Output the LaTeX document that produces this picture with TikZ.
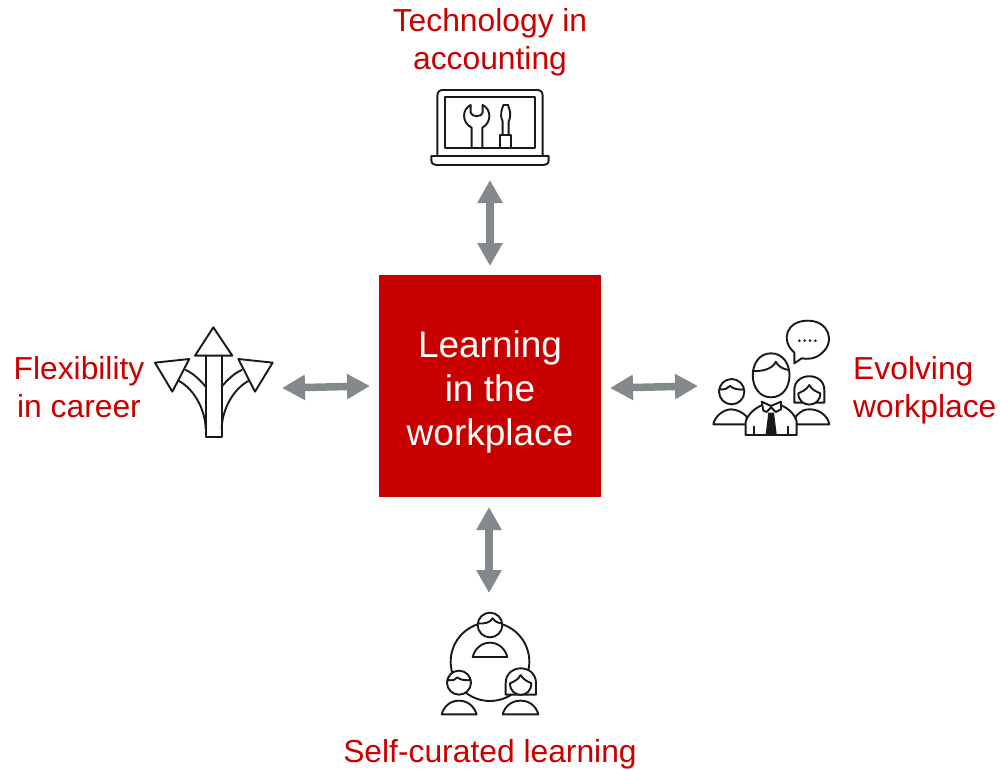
\documentclass[tikz,border=0pt]{standalone}
\usepackage{fontspec}
\setmainfont{Liberation Sans}
\usetikzlibrary{arrows.meta}
\definecolor{brandred}{HTML}{C80000}
\definecolor{arrowgray}{HTML}{84898B}
\tikzset{
  lbl/.style={text=brandred,font=\fontsize{31.8}{38}\selectfont,align=center,inner sep=0pt},
  lblleft/.style={text=brandred,font=\fontsize{31.8}{38}\selectfont,align=left,inner sep=0pt},
  centerbox/.style={fill=brandred,text=white,minimum width=222pt,minimum height=222pt,inner sep=0pt,align=center,font=\fontsize{37}{44}\selectfont},
  link/.style={draw=arrowgray,line width=7.5pt,{Triangle[length=23pt,width=24pt]}-{Triangle[length=23pt,width=24pt]}},
  icon/.style={draw=black!90,line width=1.9pt,line join=round,line cap=round},
  iconw/.style={icon,fill=white},
  zoomA/.style={shift={(420,80)},x=0.3333pt,y=-0.3333pt},
  zoomB/.style={shift={(145,315)},x=0.3333pt,y=-0.3333pt},
  zoomC/.style={shift={(705,310)},x=0.3333pt,y=-0.3333pt},
  zoomD/.style={shift={(430,600)},x=0.3333pt,y=-0.3333pt},
}
\begin{document}
\begin{tikzpicture}[x=1pt,y=-1pt]
\useasboundingbox (0,0) rectangle (1000,770);
\node[centerbox] (center) at (490,386) {\rule{0pt}{38pt}Learning\\in the\\workplace};
\node[lbl] (tech) at (490,42.5) {Technology in\\accounting};
\node[lbl] (flex) at (79,387) {Flexibility\\in career};
\node[lblleft,anchor=west] (evol) at (853,390) {Evolving\\workplace};
\node[lbl] (self) at (490,754) {Self-curated learning};

\coordinate (aT1) at (490,180); \coordinate (aT2) at (490,266);
\coordinate (aB1) at (489,507); \coordinate (aB2) at (489,593);
\coordinate (aL1) at (282,388); \coordinate (aL2) at (370,386);
\coordinate (aR1) at (610,388); \coordinate (aR2) at (698,386);
\draw[link] (aT1) -- (aT2);
\draw[link] (aB1) -- (aB2);
\draw[link] (aL1) -- (aL2);
\draw[link] (aR1) -- (aR2);

% laptop
\begin{scope}[zoomA]
\draw[icon] (52,228) -- (52,48) .. controls (52,36) and (58,30) .. (68,30) -- (352,30) .. controls (362,30) and (368,36) .. (368,48) -- (368,228);
\draw[icon] (75,52) rectangle (345,205);
\draw[icon] (34,228) -- (386,228) -- (386,240) .. controls (386,250) and (380,255) .. (372,255) -- (48,255) .. controls (40,255) and (34,250) .. (34,240) -- cycle;
\draw[icon] (155,205) -- (155,143) .. controls (125,128) and (125,88) .. (152,75) -- (152,98) .. controls (155,112) and (185,112) .. (188,98) -- (188,75) .. controls (215,88) and (215,128) .. (187,143) -- (187,205);
\draw[icon] (250,75) -- (264,75) .. controls (268,90) and (276,100) .. (266,125) -- (266,165) -- (248,165) -- (248,125) .. controls (238,100) and (246,90) .. (250,75) -- cycle;
\draw[icon] (240,165) rectangle (273,205);
\end{scope}

% arrows
\begin{scope}[zoomB]
\draw[icon] (122,165) .. controls (145,175) and (165,195) .. (182,215);
\draw[icon] (100,197) .. controls (145,220) and (180,280) .. (182,340);
\draw[icon] (290,165) .. controls (267,175) and (247,195) .. (230,215);
\draw[icon] (312,197) .. controls (267,220) and (232,280) .. (230,340);
\draw[icon] (182,122) -- (182,365) -- (230,365) -- (230,122);
\draw[icon] (205,37) -- (262,122) -- (150,122) -- cycle;
\draw[icon] (30,143) -- (133,132) -- (82,230) -- cycle;
\draw[icon] (383,143) -- (280,132) -- (330,230) -- cycle;
\end{scope}

% evolving workplace
\begin{scope}[zoomC]
\draw[icon] (268,160) -- (268,128) .. controls (225,90) and (245,32) .. (308,32) .. controls (372,32) and (392,95) .. (350,130) .. controls (330,148) and (305,148) .. (290,145) -- cycle;
\foreach \dx in {283,299,315,331} \fill[black!85] (\dx,92) circle (4.5);
\draw[iconw] (80,245) circle (38);
\draw[icon] (43,238) .. controls (60,240) and (68,235) .. (75,228) .. controls (85,238) and (105,240) .. (117,238);
\draw[iconw] (25,343) .. controls (30,315) and (60,298) .. (78,298) .. controls (95,298) and (115,308) .. (125,320) -- (125,343) -- cycle;
\draw[iconw] (268,278) -- (268,240) .. controls (268,185) and (358,185) .. (358,240) -- (358,278) -- (335,278) -- (290,278) -- cycle;
\draw[iconw] (313,225) .. controls (305,240) and (290,245) .. (280,250) .. controls (280,295) and (346,295) .. (346,250) .. controls (335,245) and (320,240) .. (313,225) -- cycle;
\draw[iconw] (272,320) .. controls (290,300) and (300,298) .. (315,298) .. controls (340,298) and (368,315) .. (373,343) -- (272,343) -- cycle;
\draw[iconw] (198,130) .. controls (125,130) and (125,262) .. (198,262) .. controls (272,262) and (272,130) .. (198,130) -- cycle;
\draw[icon] (143,183) .. controls (175,185) and (205,175) .. (212,155) .. controls (220,170) and (235,178) .. (252,180);
\draw[iconw] (122,375) -- (122,335) .. controls (130,310) and (150,295) .. (172,285) -- (198,295) -- (226,285) .. controls (250,295) and (268,310) .. (275,335) -- (275,375) -- cycle;
\draw[iconw] (170,275) -- (198,288) -- (228,275) -- (228,298) -- (212,306) -- (198,292) -- (185,306) -- (175,302) -- cycle;
\fill[black!90] (190,308) -- (207,308) -- (215,372) -- (182,372) -- cycle;
\draw[icon] (147,350) -- (147,375);
\draw[icon] (250,350) -- (250,375);
\end{scope}

% self-curated learning
\begin{scope}[zoomD]
\draw[icon] (180,185) circle (118);
\draw[iconw] (180,75) circle (37);
\draw[icon] (143,70) .. controls (165,72) and (180,68) .. (188,55) .. controls (195,65) and (205,70) .. (217,70);
\draw[iconw] (128,171) .. controls (135,145) and (155,128) .. (180,128) .. controls (205,128) and (225,145) .. (232,171) -- cycle;
\draw[iconw] (87,248) circle (36);
\draw[icon] (52,240) .. controls (70,243) and (78,238) .. (82,232) .. controls (90,240) and (108,242) .. (122,240);
\draw[iconw] (35,343) .. controls (42,318) and (62,302) .. (87,302) .. controls (112,302) and (132,318) .. (140,343) -- cycle;
\draw[iconw] (227,284) -- (227,250) .. controls (227,190) and (318,190) .. (318,250) -- (318,284) -- cycle;
\draw[iconw] (272,225) .. controls (265,240) and (250,245) .. (240,250) .. controls (240,296) and (304,296) .. (304,250) .. controls (295,245) and (280,240) .. (272,225) -- cycle;
\draw[iconw] (218,343) .. controls (225,318) and (245,302) .. (272,302) .. controls (298,302) and (318,318) .. (325,343) -- cycle;
\end{scope}
\end{tikzpicture}
\end{document}
